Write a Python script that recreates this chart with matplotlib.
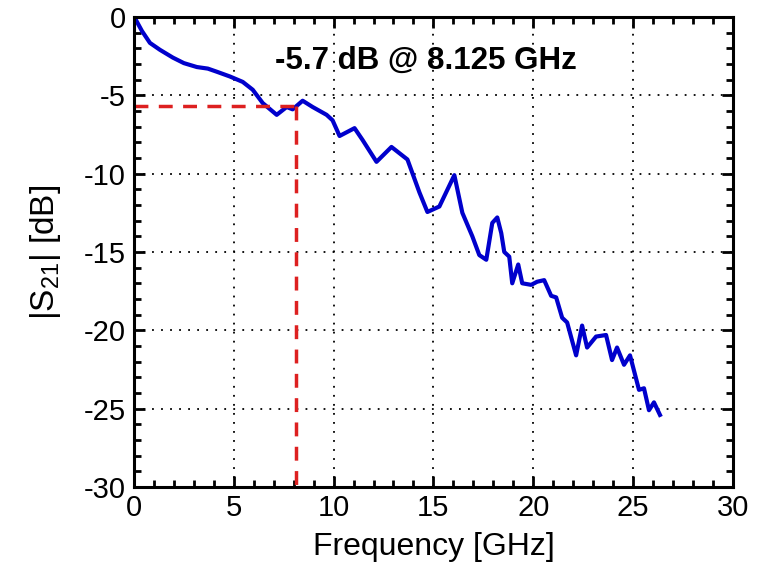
import matplotlib
matplotlib.use("Agg")
import matplotlib.pyplot as plt
from matplotlib.ticker import MultipleLocator

plt.rcParams['font.family'] = ['Liberation Sans', 'DejaVu Sans']
plt.rcParams['axes.unicode_minus'] = False

# measured |S21| (GHz, dB)
freq = [0.0, 0.1, 0.4, 0.8, 1.3, 1.95, 2.5, 3.15, 3.7, 4.15, 4.8, 5.45, 5.95, 6.45, 7.15,
        7.65, 7.95, 8.45, 8.95, 9.65, 9.95, 10.3, 11.05, 11.45, 12.15, 12.9, 13.7,
        14.3, 14.7, 15.3, 16.05, 16.45, 16.95, 17.3, 17.65, 17.95, 18.2, 18.4, 18.55,
        18.8, 18.95, 19.25, 19.45, 19.9, 20.2, 20.55, 20.9, 21.15, 21.45, 21.7, 22.15,
        22.45, 22.7, 23.15, 23.65, 23.95, 24.2, 24.55, 24.85, 25.3, 25.55, 25.8,
        26.05, 26.35]
s21 = [0.0, -0.2, -0.9, -1.66, -2.1, -2.6, -2.95, -3.2, -3.3, -3.5, -3.8, -4.15, -4.65,
       -5.5, -6.25, -5.75, -5.9, -5.35, -5.75, -6.25, -6.6, -7.6, -7.1, -7.85, -9.25,
       -8.3, -9.1, -11.2, -12.45, -12.1, -10.1, -12.5, -14.0, -15.2, -15.5, -13.15,
       -12.8, -13.8, -15.0, -15.3, -17.0, -15.8, -17.0, -17.1, -16.9, -16.8, -17.8,
       -17.9, -19.2, -19.5, -21.6, -19.7, -21.1, -20.4, -20.3, -21.9, -21.1, -22.2,
       -21.6, -23.8, -23.7, -25.1, -24.6, -25.4]

f_cut = 8.125
s_cut = -5.7

fig = plt.figure(figsize=(7.59, 5.63), dpi=100)
ax = fig.add_axes([0.1765, 0.135, 0.789, 0.835])

ax.plot(freq, s21, color='#0000cc', lw=3)
ax.plot([0, f_cut], [s_cut, s_cut], color='#dd2020', lw=2.5, ls=(0, (4, 3)))
ax.plot([f_cut, f_cut], [s_cut, -30], color='#dd2020', lw=2.5, ls=(0, (4, 3)))

ax.text(14.6, -2.8, '-5.7 dB @ 8.125 GHz', fontsize=22.5, fontweight='bold',
        ha='center', va='center')

ax.set_xlim(0, 30)
ax.set_ylim(-30, 0)
ax.xaxis.set_major_locator(MultipleLocator(5))
ax.yaxis.set_major_locator(MultipleLocator(5))
ax.xaxis.set_minor_locator(MultipleLocator(1))
ax.yaxis.set_minor_locator(MultipleLocator(1))
ax.grid(True, which='major', color='black', ls=(0, (1, 4)), lw=1.3)
ax.tick_params(which='both', direction='in', top=True, right=True, width=2)
ax.tick_params(which='major', length=8, labelsize=21)
ax.tick_params(axis='x', which='major', pad=5)
ax.tick_params(axis='y', which='major', pad=6)
ax.tick_params(which='minor', length=5)
for sp in ax.spines.values():
    sp.set_linewidth(2.2)

ax.set_xlabel('Frequency [GHz]', fontsize=23, labelpad=7)
ax.set_ylabel(r'|S$_{\mathregular{21}}$| [dB]', fontsize=24, labelpad=15)

fig.savefig('out.png', dpi=100)
